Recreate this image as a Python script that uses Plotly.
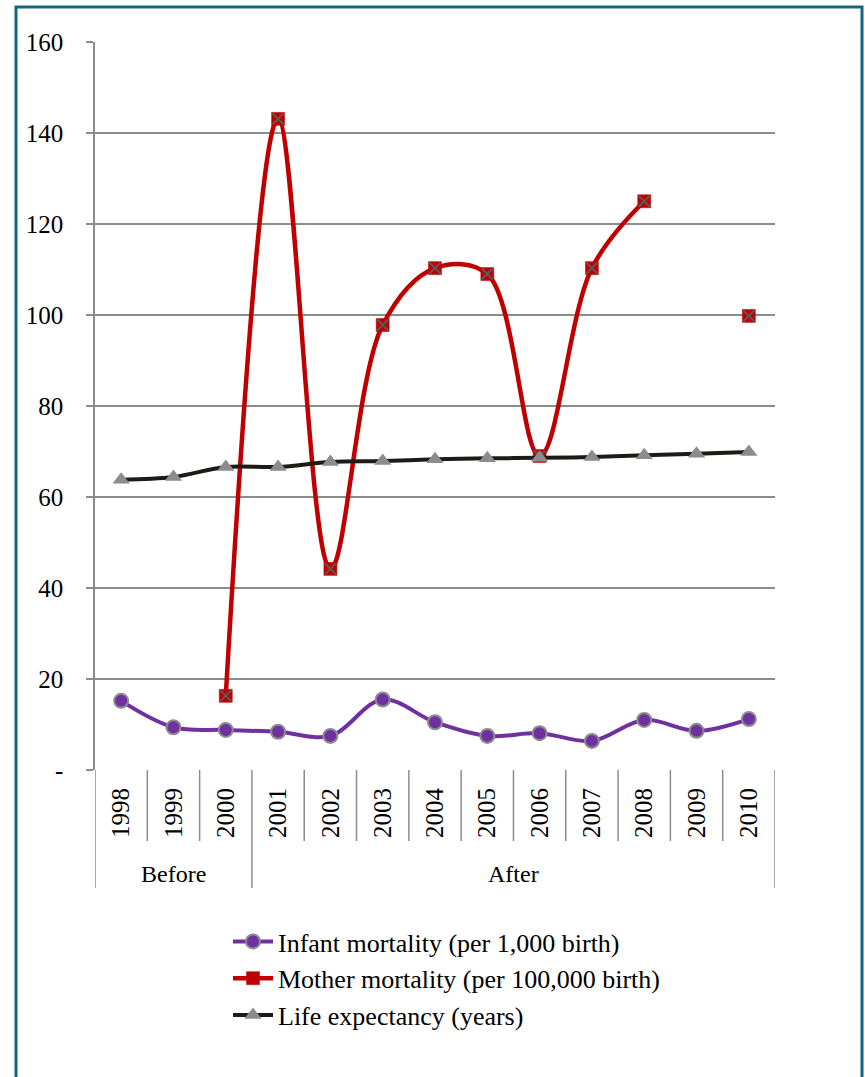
import plotly.graph_objects as go

years = ["1998", "1999", "2000", "2001", "2002", "2003", "2004", "2005", "2006", "2007", "2008", "2009", "2010"]
periods = ["Before", "Before", "Before", "After", "After", "After", "After", "After", "After", "After", "After", "After", "After"]
infant = [15.2, 9.4, 8.8, 8.4, 7.5, 15.5, 10.5, 7.5, 8.1, 6.4, 11.0, 8.6, 11.2]
mother = [None, None, 16.3, 143.1, 44.2, 97.8, 110.3, 109.0, 69.0, 110.3, 125.0, None, 99.8]
life = [63.8, 64.4, 66.6, 66.6, 67.7, 67.9, 68.3, 68.5, 68.6, 68.8, 69.2, 69.5, 69.9]
y_ticks = [0, 20, 40, 60, 80, 100, 120, 140, 160]
y_ticktext = ["-", "20", "40", "60", "80", "100", "120", "140", "160"]

W, H = 865, 1077
L, R, T, B = 95, 90, 42, 307
PW, PH = W - L - R, H - T - B

def px_x(px):
    return (px - L) / PW

def px_y(py):
    return (H - B - py) / PH

FONT = "Liberation Serif"
GRID = "#8C8C8C"
xs = list(range(len(years)))

fig = go.Figure()
fig.add_trace(go.Scatter(
    x=xs, y=infant, name="Infant mortality (per 1,000 birth)", mode="lines+markers",
    line=dict(color="#7030A0", width=4, shape="spline"),
    marker=dict(symbol="circle", size=14, color="#7030A0", line=dict(color="#8C8C8C", width=2)),
    legendgroup="a"))
fig.add_trace(go.Scatter(
    x=xs, y=mother, name="Mother mortality (per 100,000 birth)", mode="lines+markers",
    line=dict(color="#C00000", width=4.5, shape="spline"), connectgaps=False,
    marker=dict(symbol="square", size=13, color="#C00000", line=dict(color="#C00000", width=0.5)),
    legendgroup="b"))
fig.add_trace(go.Scatter(
    x=xs, y=mother, mode="markers", showlegend=False, hoverinfo="skip",
    marker=dict(symbol="x-thin", size=11, color="#5A5A5A", line=dict(color="#5A5A5A", width=2)),
    legendgroup="b"))
fig.add_trace(go.Scatter(
    x=xs, y=life, name="Life expectancy (years)", mode="lines+markers",
    line=dict(color="#1E1B16", width=4, shape="spline"),
    marker=dict(symbol="triangle-up", size=15, color="#8C8C8C", line=dict(width=0)),
    legendgroup="c"))

shapes = []
n = len(years)
for k in range(n + 1):
    b = k - 0.5
    is_group = k == 0 or k == n or periods[k - 1] != periods[k]
    shapes.append(dict(type="line", xref="x", yref="paper", x0=b, x1=b, y0=0,
                       y1=px_y(888) if is_group else px_y(841),
                       line=dict(color=GRID, width=1.5), layer="below"))
shapes.append(dict(type="rect", xref="paper", yref="paper",
                   x0=px_x(16), x1=px_x(862), y0=px_y(1095), y1=px_y(7),
                   line=dict(color="#17667E", width=3), fillcolor="rgba(0,0,0,0)", layer="below"))

annotations = []
groups = []
for i, p in enumerate(periods):
    if not groups or groups[-1][0] != p:
        groups.append([p, i, i])
    else:
        groups[-1][2] = i
for p, a, b in groups:
    annotations.append(dict(text=p, x=(a + b) / 2, xref="x", y=px_y(874), yref="paper",
                            showarrow=False, yanchor="middle", xanchor="center",
                            font=dict(family=FONT, size=24, color="black")))

fig.update_layout(
    width=W, height=H, margin=dict(l=L, r=R, t=T, b=B, autoexpand=False),
    paper_bgcolor="white", plot_bgcolor="white",
    font=dict(family=FONT, size=24, color="black"),
    shapes=shapes, annotations=annotations,
    showlegend=True,
    legend=dict(x=px_x(228), y=px_y(918), xanchor="left", yanchor="top",
                font=dict(family=FONT, size=26, color="black"),
                tracegroupgap=0, bgcolor="rgba(0,0,0,0)", itemwidth=40),
    xaxis=dict(range=[-0.5, n - 0.5], tickvals=xs, ticktext=years, tickangle=-90,
               showgrid=False, zeroline=False, showline=False, ticks="",
               tickfont=dict(family=FONT, size=25, color="black"), ticklabelstandoff=12),
    yaxis=dict(range=[0, 160], tickvals=y_ticks, ticktext=y_ticktext,
               showgrid=True, gridcolor=GRID, gridwidth=1.5, zeroline=False,
               showline=True, linecolor=GRID, linewidth=1.5,
               ticks="outside", ticklen=7, tickcolor=GRID, tickwidth=1.5,
               tickfont=dict(family=FONT, size=25, color="black"), ticklabelstandoff=18),
)

fig.write_html("out.html")
